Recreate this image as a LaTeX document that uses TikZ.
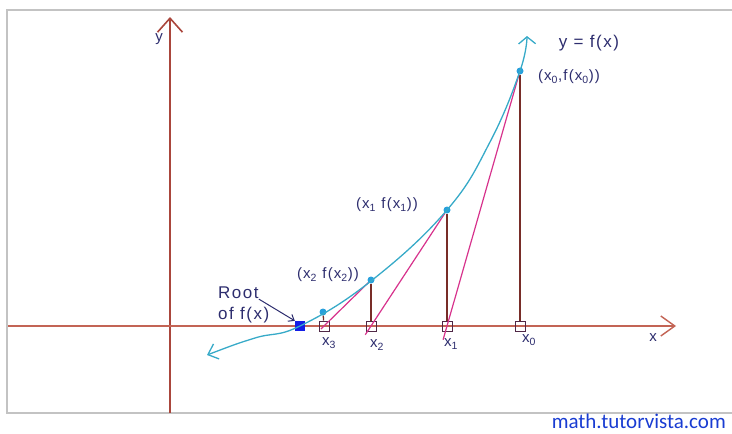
\documentclass[tikz,border=0pt]{standalone}
\usepackage{fontspec}
\setmainfont{Liberation Sans}
\newfontfamily\wmfont{Carlito}
\usetikzlibrary{arrows.meta}
\definecolor{axiscol}{RGB}{195,100,85}
\definecolor{yaxiscol}{RGB}{170,70,60}
\definecolor{vertcol}{RGB}{120,45,40}
\definecolor{curvecol}{RGB}{55,170,200}
\definecolor{seccol}{RGB}{215,50,140}
\definecolor{txtcol}{RGB}{45,45,110}
\definecolor{dotcol}{RGB}{40,160,220}
\definecolor{framecol}{RGB}{195,195,195}
\definecolor{wmcol}{RGB}{25,60,210}
\definecolor{sqcol}{RGB}{80,40,70}
\definecolor{rootcol}{RGB}{20,30,230}
\begin{document}
\begin{tikzpicture}[x=1pt,y=-1pt,
  axisline/.style={draw=axiscol, line width=1.4pt},
  vline/.style={draw=vertcol, line width=1.3pt},
  secant/.style={draw=seccol, line width=1.2pt},
  fcurve/.style={draw=curvecol, line width=1.3pt},
  lbl/.style={text=txtcol, font=\fontsize{15}{17}\selectfont\addfontfeatures{LetterSpace=8}, inner sep=0pt},
  biglbl/.style={text=txtcol, font=\fontsize{17}{19}\selectfont\addfontfeatures{LetterSpace=9}, inner sep=0pt},
  dot/.style={circle, fill=dotcol, minimum size=7pt, inner sep=0pt},
  sq/.style={draw=sqcol, line width=1pt, minimum size=10pt, inner sep=0pt},
  rootsq/.style={fill=rootcol, minimum size=10pt, inner sep=0pt}]
\useasboundingbox (0,0) rectangle (732,434);
% frame
\coordinate (fTR) at (732,10);
\coordinate (fTL) at (7,10);
\coordinate (fBL) at (7,413);
\coordinate (fBR) at (732,413);
\draw[framecol, line width=1.2pt] (fTR) -- (fTL) -- (fBL) -- (fBR);
% axes
\coordinate (ybot) at (170,413);
\coordinate (ytop) at (170,17);
\coordinate (xleft) at (8,326);
\coordinate (xright) at (676,326);
\draw[axisline, draw=yaxiscol, line width=1.6pt, -{Straight Barb[length=14pt,width=25pt]}] (ybot) -- (ytop);
\draw[axisline, -{Straight Barb[length=14pt,width=20pt]}] (xleft) -- (xright);
\node[lbl] (ylab) at (159,39) {y};
\node[lbl] (xlab) at (653,338) {x};
% axis squares
\node[sq] (A0) at (520,326) {};
\node[sq] (A1) at (447,326) {};
\node[sq] (A2) at (371,326) {};
\node[sq] (A3) at (324,326) {};
\node[rootsq] (root) at (300,326) {};
% curve points
\node[dot] (P0) at (520,71) {};
\node[dot] (P1) at (447,210) {};
\node[dot] (P2) at (371,280) {};
\node[dot] (P3) at (323,312) {};
% vertical lines
\draw[vline] (P0) -- (A0);
\draw[vline] (P1) -- (A1);
\draw[vline] (P2) -- (A2);
\draw[vline] (P3) -- (A3);
% secants
\draw[secant, shorten >=-20pt] (P0) -- (A1);
\draw[secant, shorten >=-17pt] (P1) -- (A2);
\draw[secant, shorten >=-12pt] (P2) -- (A3);
% curve
\draw[fcurve, {Straight Barb[length=9pt,width=16pt]}-{Straight Barb[length=7pt,width=17pt]}]
  plot[smooth, tension=0.7] coordinates {(207,355) (255,338) (300,326) (371,281) (447,210) (490,142) (520,71) (527,36)};
% labels
\node[biglbl] (flab) at (589,43) {y = f(x)};
\node[lbl] (l0) at (569,77) {(x\textsubscript{0},f(x\textsubscript{0}))};
\node[lbl] (l1) at (387,205) {(x\textsubscript{1} f(x\textsubscript{1}))};
\node[lbl] (l2) at (328,275) {(x\textsubscript{2} f(x\textsubscript{2}))};
\node[biglbl, anchor=west] (r1) at (218,293) {Root};
\node[biglbl, anchor=west] (r2) at (218,315) {of f(x)};
\draw[txtcol, line width=1pt, -{Straight Barb[length=5pt,width=8pt]}] (r1.south east) -- (root.north west);
\node[lbl] (t3) at (329,343) {x\textsubscript{3}};
\node[lbl] (t2) at (377,345) {x\textsubscript{2}};
\node[lbl] (t1) at (451,344) {x\textsubscript{1}};
\node[lbl] (t0) at (529,340) {x\textsubscript{0}};
% watermark
\node[text=wmcol, font=\wmfont\fontsize{21}{24}\selectfont, inner sep=0pt, anchor=east] (wm) at (726,421) {math.tutorvista.com};
\end{tikzpicture}
\end{document}
